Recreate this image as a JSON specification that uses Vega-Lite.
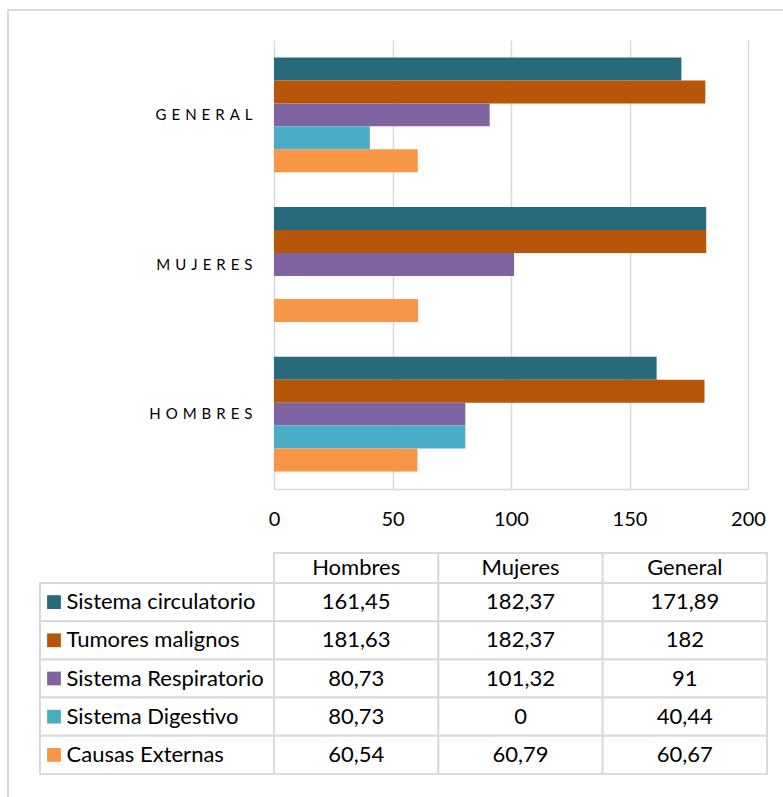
{
  "$schema": "https://vega.github.io/schema/vega-lite/v6.json",
  "width": 474,
  "height": 449,
  "autosize": {"type": "none"},
  "padding": {"left": 274, "top": 40, "right": 35, "bottom": 308},
  "background": "white",
  "config": {
    "font": "Lato",
    "view": {"stroke": null},
    "locale": {"number": {"decimal": ",", "thousands": ".", "grouping": [3], "currency": ["", " €"]}}
  },
  "datasets": {
    "tasas": [
      {"grupo": "Hombres", "serie": "Sistema circulatorio", "valor": 161.45},
      {"grupo": "Hombres", "serie": "Tumores malignos", "valor": 181.63},
      {"grupo": "Hombres", "serie": "Sistema Respiratorio", "valor": 80.73},
      {"grupo": "Hombres", "serie": "Sistema Digestivo", "valor": 80.73},
      {"grupo": "Hombres", "serie": "Causas Externas", "valor": 60.54},
      {"grupo": "Mujeres", "serie": "Sistema circulatorio", "valor": 182.37},
      {"grupo": "Mujeres", "serie": "Tumores malignos", "valor": 182.37},
      {"grupo": "Mujeres", "serie": "Sistema Respiratorio", "valor": 101.32},
      {"grupo": "Mujeres", "serie": "Sistema Digestivo", "valor": 0},
      {"grupo": "Mujeres", "serie": "Causas Externas", "valor": 60.79},
      {"grupo": "General", "serie": "Sistema circulatorio", "valor": 171.89},
      {"grupo": "General", "serie": "Tumores malignos", "valor": 182},
      {"grupo": "General", "serie": "Sistema Respiratorio", "valor": 91},
      {"grupo": "General", "serie": "Sistema Digestivo", "valor": 40.44},
      {"grupo": "General", "serie": "Causas Externas", "valor": 60.67}
    ]
  },
  "resolve": {
    "scale": {"x": "independent", "y": "independent"},
    "axis": {"x": "independent", "y": "independent"}
  },
  "layer": [
    {
      "data": {"values": [{"marco": "borde"}]},
      "mark": {"type": "rect", "fill": "white", "fillOpacity": 0, "stroke": "#d9d9d9", "strokeWidth": 2},
      "encoding": {
        "x": {"field": "marco", "type": "nominal", "scale": {"domain": ["borde"], "range": [-266, 620], "paddingInner": 0, "paddingOuter": 0}, "axis": null},
        "y": {"field": "marco", "type": "nominal", "scale": {"domain": ["borde"], "range": [-30, 800], "paddingInner": 0, "paddingOuter": 0}, "axis": null}
      }
    },
    {
      "data": {"name": "tasas"},
      "mark": {"type": "bar"},
      "encoding": {
        "y": {
          "field": "grupo", "type": "nominal",
          "sort": ["General", "Mujeres", "Hombres"],
          "scale": {"paddingInner": 0.233, "paddingOuter": 0.117},
          "axis": {
            "title": null, "domain": false, "ticks": false,
            "labelFontSize": 15, "labelColor": "#000", "labelPadding": 22,
            "labelExpr": "join(split(upper(datum.label), ''), '\u2004')"
          }
        },
        "yOffset": {
          "field": "serie", "type": "nominal",
          "sort": ["Sistema circulatorio", "Tumores malignos", "Sistema Respiratorio", "Sistema Digestivo", "Causas Externas"],
          "scale": {"paddingInner": 0, "paddingOuter": 0}
        },
        "x": {
          "field": "valor", "type": "quantitative",
          "scale": {"domain": [0, 200], "nice": false},
          "axis": {
            "title": null, "values": [0, 50, 100, 150, 200],
            "grid": true, "gridColor": "#d9d9d9", "gridWidth": 1.5,
            "domainColor": "#d9d9d9", "domainWidth": 1.5,
            "ticks": false, "labelFontSize": 20, "labelColor": "#000",
            "labelPadding": 20, "labelFlush": false
          }
        },
        "color": {
          "field": "serie", "type": "nominal",
          "scale": {
            "domain": ["Sistema circulatorio", "Tumores malignos", "Sistema Respiratorio", "Sistema Digestivo", "Causas Externas"],
            "range": ["#276A7B", "#B75608", "#8064A2", "#4BACC6", "#F79646"]
          },
          "legend": null
        }
      }
    },
    {
      "data": {"name": "tasas"},
      "transform": [{"filter": "datum.serie === 'Sistema circulatorio'"}],
      "mark": {"type": "rect", "fill": "white", "stroke": "#d9d9d9", "strokeWidth": 2},
      "encoding": {
        "x": {"field": "grupo", "type": "nominal", "scale": {"domain": ["Hombres", "Mujeres", "General"], "range": [0, 493], "paddingInner": 0, "paddingOuter": 0}, "axis": null},
        "y": {"datum": "encabezado", "type": "nominal", "scale": {"domain": ["encabezado"], "range": [513, 543], "paddingInner": 0, "paddingOuter": 0}, "axis": null}
      }
    },
    {
      "data": {"name": "tasas"},
      "transform": [{"filter": "datum.serie === 'Sistema circulatorio'"}],
      "mark": {"type": "text", "fontSize": 22, "color": "#000", "align": "center", "baseline": "middle"},
      "encoding": {
        "x": {"field": "grupo", "type": "nominal", "scale": {"domain": ["Hombres", "Mujeres", "General"], "range": [0, 493], "paddingInner": 0, "paddingOuter": 0}, "axis": null},
        "y": {"datum": "encabezado", "type": "nominal", "scale": {"domain": ["encabezado"], "range": [513, 543], "paddingInner": 0, "paddingOuter": 0}, "axis": null},
        "text": {"field": "grupo"}
      }
    },
    {
      "data": {"name": "tasas"},
      "mark": {"type": "rect", "fill": "white", "stroke": "#d9d9d9", "strokeWidth": 2},
      "encoding": {
        "x": {"field": "grupo", "type": "nominal", "scale": {"domain": ["Hombres", "Mujeres", "General"], "range": [0, 493], "paddingInner": 0, "paddingOuter": 0}, "axis": null},
        "y": {"field": "serie", "type": "nominal", "scale": {"domain": ["Sistema circulatorio", "Tumores malignos", "Sistema Respiratorio", "Sistema Digestivo", "Causas Externas"], "range": [543, 734], "paddingInner": 0, "paddingOuter": 0}, "axis": null}
      }
    },
    {
      "data": {"name": "tasas"},
      "mark": {"type": "text", "fontSize": 22, "color": "#000", "align": "center", "baseline": "middle"},
      "encoding": {
        "x": {"field": "grupo", "type": "nominal", "scale": {"domain": ["Hombres", "Mujeres", "General"], "range": [0, 493], "paddingInner": 0, "paddingOuter": 0}, "axis": null},
        "y": {"field": "serie", "type": "nominal", "scale": {"domain": ["Sistema circulatorio", "Tumores malignos", "Sistema Respiratorio", "Sistema Digestivo", "Causas Externas"], "range": [543, 734], "paddingInner": 0, "paddingOuter": 0}, "axis": null},
        "text": {"field": "valor", "type": "quantitative", "format": ".2~f"}
      }
    },
    {
      "data": {"name": "tasas"},
      "transform": [{"filter": "datum.grupo === 'Hombres'"}],
      "mark": {"type": "rect", "fill": "white", "stroke": "#d9d9d9", "strokeWidth": 2},
      "encoding": {
        "x": {"datum": "etiqueta", "type": "nominal", "scale": {"domain": ["etiqueta"], "range": [-234, 0], "paddingInner": 0, "paddingOuter": 0}, "axis": null},
        "y": {"field": "serie", "type": "nominal", "scale": {"domain": ["Sistema circulatorio", "Tumores malignos", "Sistema Respiratorio", "Sistema Digestivo", "Causas Externas"], "range": [543, 734], "paddingInner": 0, "paddingOuter": 0}, "axis": null}
      }
    },
    {
      "data": {"name": "tasas"},
      "transform": [{"filter": "datum.grupo === 'Hombres'"}],
      "mark": {"type": "point", "shape": "square", "filled": true, "size": 190, "opacity": 1},
      "encoding": {
        "x": {"datum": "clave", "type": "nominal", "scale": {"domain": ["clave"], "range": [-227, -213], "paddingInner": 0, "paddingOuter": 0}, "axis": null},
        "y": {"field": "serie", "type": "nominal", "scale": {"domain": ["Sistema circulatorio", "Tumores malignos", "Sistema Respiratorio", "Sistema Digestivo", "Causas Externas"], "range": [543, 734], "paddingInner": 0, "paddingOuter": 0}, "axis": null},
        "color": {"field": "serie", "type": "nominal", "legend": null}
      }
    },
    {
      "data": {"name": "tasas"},
      "transform": [{"filter": "datum.grupo === 'Hombres'"}],
      "mark": {"type": "text", "fontSize": 22, "color": "#000", "align": "left", "baseline": "middle"},
      "encoding": {
        "x": {"datum": "texto", "type": "nominal", "scale": {"domain": ["texto"], "range": [-208, -207], "paddingInner": 0, "paddingOuter": 0}, "axis": null},
        "y": {"field": "serie", "type": "nominal", "scale": {"domain": ["Sistema circulatorio", "Tumores malignos", "Sistema Respiratorio", "Sistema Digestivo", "Causas Externas"], "range": [543, 734], "paddingInner": 0, "paddingOuter": 0}, "axis": null},
        "text": {"field": "serie"}
      }
    }
  ]
}
